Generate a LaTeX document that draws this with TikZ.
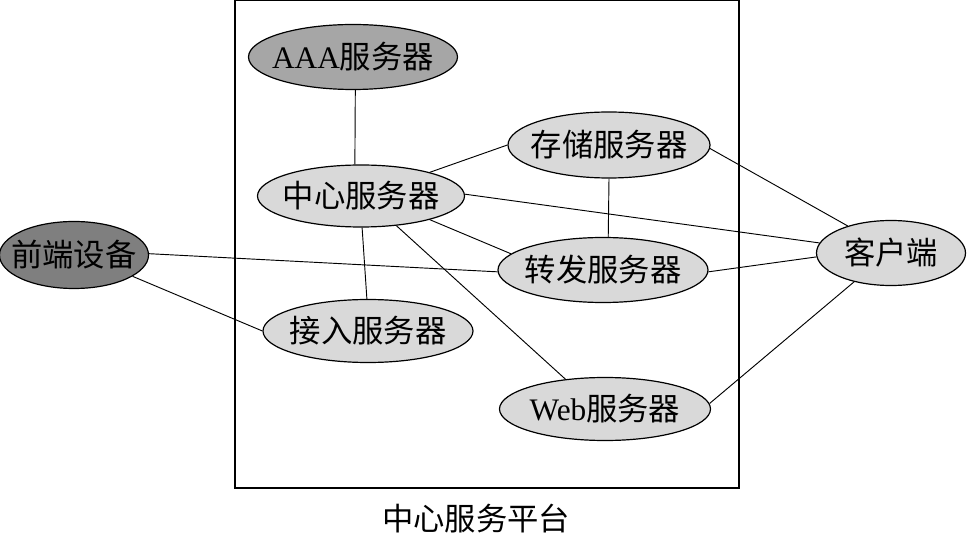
\documentclass[tikz,border=0pt]{standalone}
\usepackage{fontspec}
\setmainfont{Liberation Serif}
\newfontfamily\cjk{Noto Sans CJK SC}
\usetikzlibrary{shapes.geometric}
\definecolor{lightg}{HTML}{D9D9D9}
\definecolor{midg}{HTML}{A6A6A6}
\definecolor{darkg}{HTML}{7F7F7F}
\tikzset{
  srv/.style={ellipse, draw=black, line width=0.9pt, fill=lightg, inner sep=-30pt,
    font=\fontsize{23.5}{27}\selectfont},
  link/.style={line width=0.7pt, draw=black}
}
\begin{document}
\begin{tikzpicture}[x=0.75pt,y=-0.75pt]
\useasboundingbox (0,0) rectangle (967,534);
\node[draw=black, line width=0.9pt, minimum width=504*0.75pt, minimum height=488*0.75pt, inner sep=0pt] (plat) at (487,244) {};
\node[font=\fontsize{23.5}{27}\selectfont] (platlabel) at (476,519) {\cjk 中心服务平台};

\node[srv, fill=midg, minimum width=209*0.75pt, minimum height=65*0.75pt] (aaa) at (353,57) {AAA{\cjk 服务器}};
\node[srv, minimum width=207*0.75pt, minimum height=62*0.75pt] (center) at (361,196) {\cjk 中心服务器};
\node[srv, minimum width=202*0.75pt, minimum height=66*0.75pt] (store) at (609,145) {\cjk 存储服务器};
\node[srv, minimum width=210*0.75pt, minimum height=65*0.75pt] (fwd) at (603,270) {\cjk 转发服务器};
\node[srv, minimum width=210*0.75pt, minimum height=63*0.75pt] (acc) at (368,331) {\cjk 接入服务器};
\node[srv, minimum width=211*0.75pt, minimum height=63*0.75pt] (web) at (605,409) {Web{\cjk 服务器}};
\node[srv, fill=darkg, minimum width=149*0.75pt, minimum height=67*0.75pt] (front) at (74,255) {\cjk 前端设备};
\node[srv, minimum width=149*0.75pt, minimum height=65*0.75pt] (client) at (891,253) {\cjk 客户端};

\draw[link] (aaa.-86.5) -- (center.101);
\draw[link] (center.19) -- (store.180);
\draw[link] (center.1) -- (client.172);
\draw[link] (center.-19) -- (fwd.170);
\draw[link] (center.-88) -- (acc.92);
\draw[link] (center.-40) -- (web.143);
\draw[link] (store.-90) -- (fwd.81);
\draw[link] (store.-2) -- (client.148);
\draw[link] (fwd.-1) -- (client.183);
\draw[link] (web.3) -- (client.218);
\draw[link] (front.1.5) -- (fwd.181);
\draw[link] (front.-20) -- (acc.180);
\end{tikzpicture}
\end{document}
